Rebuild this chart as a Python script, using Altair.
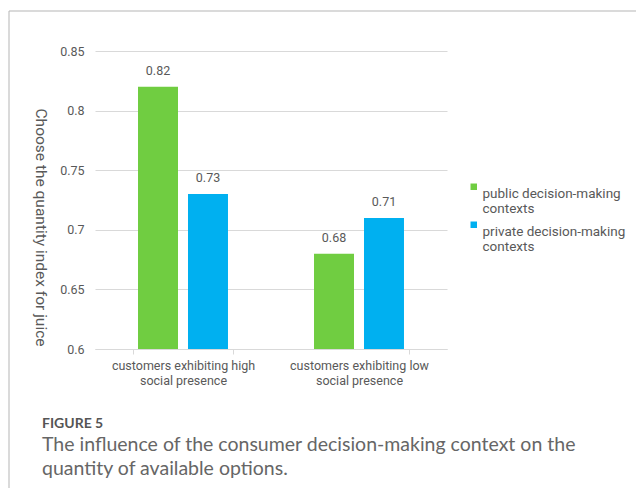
import altair as alt
import pandas as pd

# ---- data ----
categories = ["customers exhibiting high\nsocial presence", "customers exhibiting low\nsocial presence"]
contexts = ["public decision-making\ncontexts", "private decision-making\ncontexts"]
public_values = [0.82, 0.68]
private_values = [0.73, 0.71]
y_ticks = [0.6, 0.65, 0.7, 0.75, 0.8, 0.85]
colors = ["#70CD41", "#00B0F0"]
y_title = "Choose the quantity index for juice"
fig_label = "FIGURE 5"
caption = ["The influence of the consumer decision-making context on the",
           "quantity of available options."]

rows = []
for i, c in enumerate(categories):
    rows.append({"category": c, "context": contexts[0], "value": public_values[i]})
    rows.append({"category": c, "context": contexts[1], "value": private_values[i]})
df = pd.DataFrame(rows)

FONT = "Roboto"
GRAY = "#595959"
GRID = "#d9d9d9"

x_enc = alt.X("category:N", sort=categories,
              scale=alt.Scale(paddingInner=0.432, paddingOuter=0.216),
              axis=alt.Axis(title=None, labelAngle=0, labelExpr="split(datum.label, '\\n')",
                            labelFont=FONT, labelFontSize=12.5, labelColor=GRAY,
                            labelPadding=5, labelLineHeight=15, labelLimit=300,
                            domainColor=GRID, tickColor=GRID, tickSize=5,
                            tickBand="extent", grid=False))
xo_enc = alt.XOffset("context:N", sort=contexts,
                     scale=alt.Scale(paddingInner=0.2, paddingOuter=0.1))
y_enc = alt.Y("value:Q",
              scale=alt.Scale(domain=[0.6, 0.85], zero=False, nice=False),
              axis=alt.Axis(values=y_ticks, format=".2~f", domain=False, ticks=False,
                            labelFont=FONT, labelFontSize=12.5, labelColor=GRAY,
                            labelPadding=11, gridColor=GRID, gridWidth=1,
                            title=y_title, titleAngle=90, titleFont=FONT,
                            titleFontSize=15.5, titleFontWeight="normal", titleColor=GRAY,
                            titleX=-55, titleY=176, titleAlign="center",
                            titleBaseline="middle"))
color_enc = alt.Color("context:N", sort=contexts,
                      scale=alt.Scale(domain=contexts, range=colors),
                      legend=alt.Legend(title=None, orient="none", legendX=372, legendY=129,
                                        symbolType="square", symbolSize=42,
                                        symbolStrokeWidth=0, labelFont=FONT,
                                        labelFontSize=13.5, labelColor=GRAY,
                                        labelExpr="split(datum.label, '\\n')",
                                        labelLimit=300, labelOffset=2, rowPadding=2,
                                        labelBaseline="top", padding=0))

base = alt.Chart(df)
bars = base.mark_bar(clip=True).encode(x=x_enc, xOffset=xo_enc, y=y_enc, color=color_enc)
labels = base.mark_text(baseline="bottom", dy=-9, font=FONT, fontSize=12.5,
                        color=GRAY).encode(
    x=alt.X("category:N", sort=categories), xOffset=alt.XOffset("context:N", sort=contexts),
    y="value:Q", text=alt.Text("value:Q", format=".2f"))

one = pd.DataFrame({"k": [0]})
frame_top = alt.Chart(one).mark_rule(color="#b5b5b5", strokeWidth=1).encode(
    x=alt.value(-86), x2=alt.value(545), y=alt.value(-40))
frame_left = alt.Chart(one).mark_rule(color="#b5b5b5", strokeWidth=1).encode(
    x=alt.value(-86), y=alt.value(-40), y2=alt.value(445))

chart = alt.layer(frame_top, frame_left, bars, labels).properties(
    width=352, height=298,
    background="white",
    padding={"left": 87, "top": 43, "right": 189, "bottom": 139},
    autosize=alt.AutoSizeParams(type="none"),
    title=alt.TitleParams(fig_label, subtitle=caption, orient="bottom", anchor="start",
                          frame="group", dx=-53, offset=-80,
                          font="Lato", fontSize=14, fontWeight="bold", color="#555555",
                          subtitleFont="Lato", subtitleFontSize=19.5,
                          subtitleColor="#666666", subtitleLineHeight=24,
                          subtitlePadding=5)
).configure_view(strokeWidth=0, stroke="transparent")

chart.save("out.html", embed_options={"renderer": "svg", "actions": False})
